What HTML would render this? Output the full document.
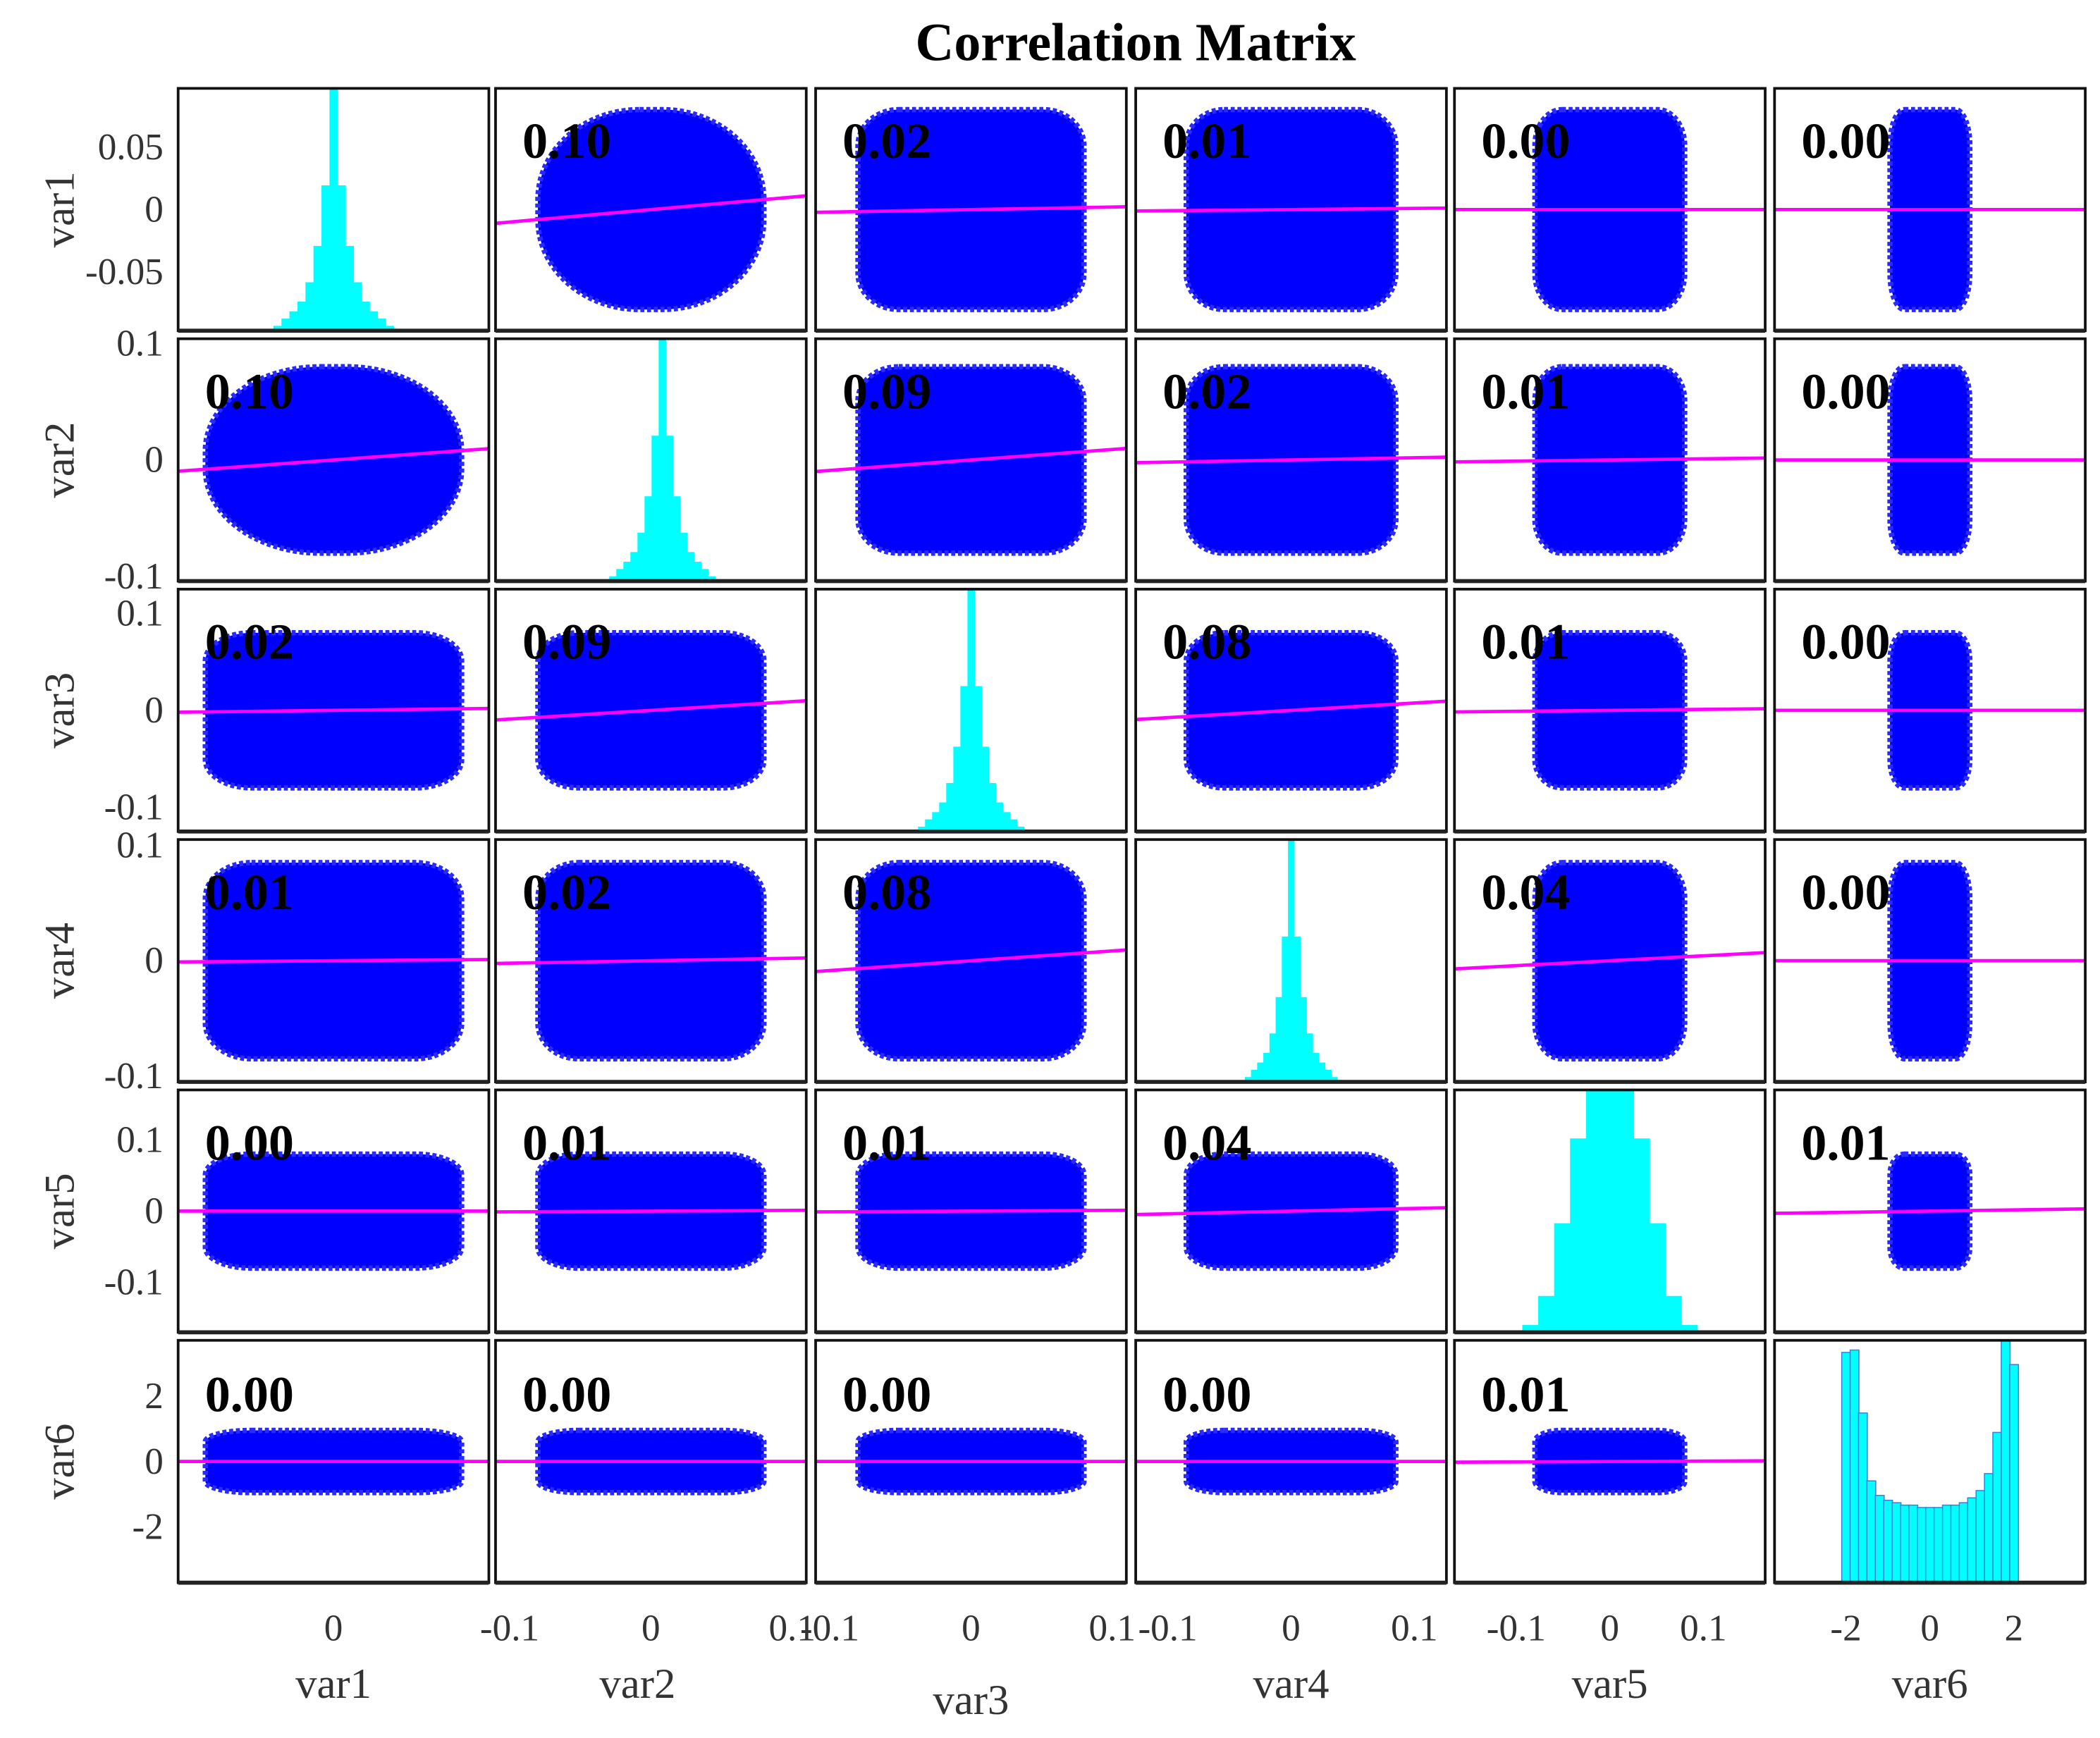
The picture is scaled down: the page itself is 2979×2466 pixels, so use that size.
<!DOCTYPE html>
<html><head><meta charset="utf-8"><style>
html,body{margin:0;padding:0;background:#fff;}
svg{display:block;font-family:"Liberation Serif",serif;}
</style></head><body>
<svg id="chart" width="2979" height="2466" viewBox="0 0 1568 1298" xmlns="http://www.w3.org/2000/svg">
<rect width="1568" height="1298" fill="#fff"/>
<text x="848" y="45" text-anchor="middle" font-size="40" font-weight="bold">Correlation Matrix</text>
</svg>
<script>
const varNames = ["var1","var2","var3","var4","var5","var6"];
const corr = [
 [null,0.10,0.02,0.01,0.00,0.00],
 [0.10,null,0.09,0.02,0.01,0.00],
 [0.02,0.09,null,0.08,0.01,0.00],
 [0.01,0.02,0.08,null,0.04,0.00],
 [0.00,0.01,0.01,0.04,null,0.01],
 [0.00,0.00,0.00,0.00,0.01,null]
];
const rowRange = [0.097,0.104,0.125,0.105,0.17,3.7];
const colRange = [0.097,0.11,0.11,0.126,0.166,3.7];
const spread = [0.08,0.08,0.08,0.085,0.08,0.95];
const yTicks = [[0.05,0,-0.05],[0.1,0,-0.1],[0.1,0,-0.1],[0.1,0,-0.1],[0.1,0,-0.1],[2,0,-2]];
const yTickLabels = [["0.05","0","-0.05"],["0.1","0","-0.1"],["0.1","0","-0.1"],["0.1","0","-0.1"],["0.1","0","-0.1"],["2","0","-2"]];
const xTicks = [[0],[-0.1,0,0.1],[-0.1,0,0.1],[-0.1,0,0.1],[-0.1,0,0.1],[-2,0,2]];
const xTickLabels = [["0"],["-0.1","0","0.1"],["-0.1","0","0.1"],["-0.1","0","0.1"],["-0.1","0","0.1"],["-2","0","2"]];
const histCenters1 = [-0.035,-0.03,-0.025,-0.02,-0.015,-0.01,-0.005,0,0.005,0.01,0.015,0.02,0.025,0.03,0.035];
const histPeak = [0.02,0.05,0.08,0.12,0.2,0.35,0.6,1.0,0.6,0.35,0.2,0.12,0.08,0.05,0.02];
const histCenters5 = [-0.085,-0.068,-0.051,-0.034,-0.017,0,0.017,0.034,0.051,0.068,0.085];
const histNormal = [0.03,0.15,0.45,0.8,1.0,1.0,1.0,0.8,0.45,0.15,0.03];
const histCenters6 = [-2,-1.8,-1.6,-1.4,-1.2,-1,-0.8,-0.6,-0.4,-0.2,0,0.2,0.4,0.6,0.8,1,1.2,1.4,1.6,1.8,2];
const histU = [0.95,0.96,0.7,0.42,0.36,0.34,0.33,0.32,0.32,0.31,0.31,0.31,0.32,0.32,0.33,0.35,0.38,0.45,0.62,1.0,0.9];
const histShift = [0,0.008,0,0,0,0];

const colX = [133,370,609,848,1086,1325];
const rowY = [66,253,440,627,814,1001];
const W = 232, H = 181;
const svg = document.getElementById('chart');
const NS = "http://www.w3.org/2000/svg";
function mk(tag, attrs, parent){const e=document.createElementNS(NS,tag);for(const k in attrs)e.setAttribute(k,attrs[k]);(parent||svg).appendChild(e);return e;}
function sx(j,v){return colX[j]+W/2+v/colRange[j]*(W/2);}
function sy(i,v){return rowY[i]+H/2-v/rowRange[i]*(H/2);}

for(let i=0;i<6;i++){
  for(let j=0;j<6;j++){
    const g=mk('g',{});
    
    
    const cp=mk('clipPath',{id:'cp'+i+j},g);
    mk('rect',{x:colX[j],y:rowY[i],width:W,height:H},cp);
    const inner=mk('g',{'clip-path':'url(#cp'+i+j+')'},g);
    if(i===j){
      let centers, hs, bw;
      if(i<4){centers=histCenters1;hs=histPeak;bw=0.005;}
      else if(i===4){centers=histCenters5;hs=histNormal;bw=0.017;}
      else {centers=histCenters6;hs=histU;bw=0.2;}
      centers.forEach((c,k)=>{
        const x0=sx(j,c+histShift[i]-bw/2), x1=sx(j,c+histShift[i]+bw/2);
        const h=Math.min(hs[k],1.02)*H;
        const b=mk('rect',{x:x0,y:rowY[i]+H-h,width:x1-x0+0.3,height:h,fill:'#00ffff',stroke:i===5?'#3a7fd8':'none','stroke-width':i===5?0.8:0},inner);
        
        
      });
    } else {
      const sxr=spread[j], syr=spread[i];
      const x0=sx(j,-sxr), x1=sx(j,sxr), y0=sy(i,syr), y1=sy(i,-syr);
      const round = (i<2&&j<2)?0.45:0.18;
      const cl=mk('rect',{x:x0,y:y0,width:x1-x0,height:y1-y0,rx:(x1-x0)*round,ry:(y1-y0)*round,fill:'#0000ff',stroke:'#2a2aff','stroke-width':4,'stroke-dasharray':'3 2'},inner);
      
      
      const r=corr[i][j];
      const slope=r*spread[i]/spread[j];
      const xa=-colRange[j], xb=colRange[j];
      const ln=mk('line',{x1:sx(j,xa),y1:sy(i,slope*xa),x2:sx(j,xb),y2:sy(i,slope*xb),stroke:'#ff00ff','stroke-width':2.5},inner);
      
      
      const t=mk('text',{x:colX[j]+20,y:rowY[i]+(i===5?53:52),'font-size':38,'font-weight':'bold',fill:'#000'},g);
      t.textContent=r.toFixed(2);
      
      
    }
    mk('rect',{x:colX[j],y:rowY[i],width:W,height:H,fill:'none',stroke:'#111','stroke-width':2},g);
    mk('line',{x1:colX[j],y1:rowY[i]+H,x2:colX[j]+W,y2:rowY[i]+H,stroke:'#222','stroke-width':3},g);
  }
  yTicks[i].forEach((v,k)=>{
    const t=mk('text',{x:122,y:sy(i,v)+9,'text-anchor':'end','font-size':28,fill:'#333'});
    t.textContent=yTickLabels[i][k];
    
    
  });
  const yl=mk('text',{x:0,y:0,'text-anchor':'middle','font-size':32,fill:'#333',transform:'translate(55,'+(rowY[i]+H/2)+') rotate(-90)'});
  yl.textContent=varNames[i];
  
  
}
for(let j=0;j<6;j++){
  xTicks[j].forEach((v,k)=>{
    const t=mk('text',{x:sx(j,v),y:1225,'text-anchor':'middle','font-size':28,fill:'#333'});
    t.textContent=xTickLabels[j][k];
    
    
  });
  const xl=mk('text',{x:colX[j]+W/2-(j===1?10:0),y:j===2?1280:1268,'text-anchor':'middle','font-size':32,fill:'#333'});
  xl.textContent=varNames[j];
  
  
}
</script>
</body></html>
